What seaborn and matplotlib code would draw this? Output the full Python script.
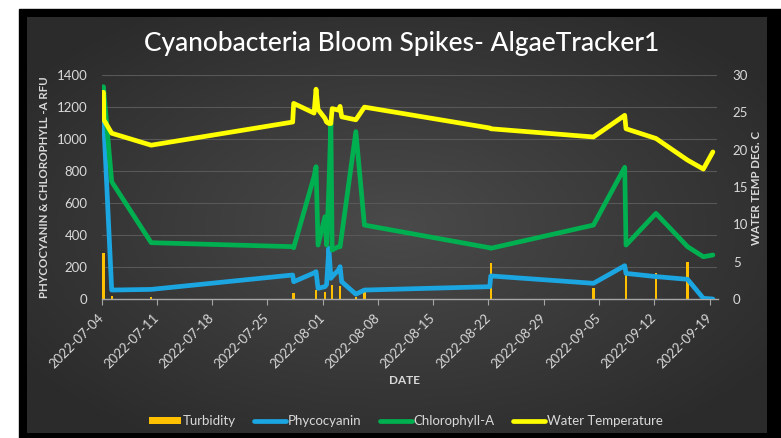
import numpy as np
import pandas as pd
import matplotlib
matplotlib.use("Agg")
import matplotlib.pyplot as plt
from matplotlib.patches import Rectangle, Patch
from matplotlib.lines import Line2D
from matplotlib.colors import LinearSegmentedColormap
import seaborn as sns

# ---------------- data ----------------
timestamps = [
    "2022-07-04 06:00", "2022-07-04 07:00", "2022-07-05 07:00", "2022-07-10 07:00",
    "2022-07-28 05:00", "2022-07-28 08:00", "2022-07-30 22:00", "2022-07-31 04:00",
    "2022-07-31 10:00", "2022-08-01 07:00", "2022-08-01 12:00", "2022-08-01 19:00",
    "2022-08-02 01:00", "2022-08-02 05:00", "2022-08-03 00:00", "2022-08-03 05:00",
    "2022-08-03 10:00", "2022-08-05 05:00", "2022-08-06 07:00", "2022-08-22 04:00",
    "2022-08-22 07:00", "2022-09-04 07:00", "2022-09-08 06:00", "2022-09-08 10:00",
    "2022-09-12 05:00", "2022-09-16 05:00", "2022-09-18 05:00", "2022-09-19 10:00",
]
water_temp = [27.7, 24.0, 22.2, 20.6, 23.7, 26.2, 24.9, 28.1, 25.4, 24.2, 23.7, 23.5,
              23.5, 25.5, 25.3, 25.8, 24.4, 24.0, 25.7, 22.9, 22.8, 21.7, 24.6, 22.8,
              21.5, 18.6, 17.4, 19.7]
chlorophyll = [1327, 1300, 733, 352, 327, 320, 766, 827, 337, 514, 337, 700,
               1098, 306, 327, 327, 400, 1046, 462, 320, 317, 462, 823, 337,
               535, 327, 264, 275]
phycocyanin = [1119, 1100, 56, 60, 150, 108, 163, 171, 67, 77, 90, 317,
               129, 140, 181, 202, 108, 30, 56, 77, 144, 98, 208, 160,
               140, 123, 4, 0]
turbidity = [285, 0, 20, 10, 0, 40, 0, 56, 0, 46, 0, 0,
             0, 87, 0, 81, 0, 15, 62, 0, 227, 67, 0, 150,
             165, 233, 0, 0]
tick_labels = ["2022-07-04", "2022-07-11", "2022-07-18", "2022-07-25", "2022-08-01",
               "2022-08-08", "2022-08-15", "2022-08-22", "2022-08-29", "2022-09-05",
               "2022-09-12", "2022-09-19"]
left_ticks = [0, 200, 400, 600, 800, 1000, 1200, 1400]
right_ticks = [0, 5, 10, 15, 20, 25, 30]

dates = pd.to_datetime(timestamps)

# ---------------- style ----------------
sns.set_theme(style="white")
plt.rcParams["font.family"] = ["Lato", "DejaVu Sans"]

C_TURB = "#FFC000"
C_PHY = "#1BA6E2"
C_CHL = "#00B050"
C_TEMP = "#FFFF00"
C_TXT = "#D9D9D9"

W, H = 781, 438
fig = plt.figure(figsize=(W / 100, H / 100), dpi=100, facecolor="white")

# black frame
fig.patches.append(Rectangle((19 / W, 0), 1 - 19 / W, 1 - 9 / H,
                             transform=fig.transFigure, color="black", zorder=-5))

# radial gradient background
bg = fig.add_axes([27 / W, 1 - 433 / H, (767 - 27) / W, (433 - 17) / H])
bg.set_zorder(0)
yy, xx = np.mgrid[0:1:300j, 0:1:500j]
r = np.sqrt(((xx - 0.5) / 0.62) ** 2 + ((yy - 0.5) / 0.62) ** 2)
cmap = LinearSegmentedColormap.from_list("bg", ["#4A4A4A", "#2B2B2B"])
bg.imshow(np.clip(r, 0, 1), cmap=cmap, vmin=0, vmax=1, aspect="auto",
          extent=(0, 1, 0, 1), interpolation="bilinear")
bg.axis("off")

# main axes
ax = fig.add_axes([101.5 / W, 1 - 299 / H, 616 / W, 224 / H])
ax.set_zorder(1)
ax.set_facecolor("none")

ax.bar(dates, turbidity, width=0.3, color=C_TURB, edgecolor="none",
       linewidth=0, zorder=2)
sns.lineplot(x=dates, y=phycocyanin, ax=ax, color=C_PHY, linewidth=3.4,
             estimator=None, sort=False, zorder=3)
sns.lineplot(x=dates, y=chlorophyll, ax=ax, color=C_CHL, linewidth=3.4,
             estimator=None, sort=False, zorder=4)
for l in ax.lines:
    l.set_solid_joinstyle("round")

ax2 = ax.twinx()
ax2.set_zorder(2)
ax2.set_facecolor("none")
sns.lineplot(x=dates, y=water_temp, ax=ax2, color=C_TEMP, linewidth=3.4,
             estimator=None, sort=False)
for l in ax2.lines:
    l.set_solid_joinstyle("round")

ax.set_xlim(pd.Timestamp("2022-07-04"), pd.Timestamp("2022-09-20"))
ax.set_ylim(0, 1400)
ax2.set_ylim(0, 30)
ax.set_yticks(left_ticks)
ax.set_yticklabels([str(v) for v in left_ticks])
ax2.set_yticks(right_ticks)
ax2.set_yticklabels([str(v) for v in right_ticks])
ax.set_xticks(pd.to_datetime(tick_labels))
ax.set_xticklabels(tick_labels, rotation=45, ha="right", va="center",
                   rotation_mode="anchor")

ax.set_xlabel("")
ax.set_ylabel("")
ax2.set_ylabel("")

ax.grid(axis="y", color="#585858", linewidth=0.8)
ax.grid(axis="x", visible=False)
ax2.grid(False)
ax.set_axisbelow(True)

for s in ["top", "left", "right"]:
    ax.spines[s].set_visible(False)
for s in ax2.spines.values():
    s.set_visible(False)
ax.spines["bottom"].set_color("#A6A6A6")
ax.spines["bottom"].set_linewidth(1.0)

ax.tick_params(axis="y", length=0, pad=10, labelcolor=C_TXT, labelsize=9.5)
ax.tick_params(axis="x", length=4, width=0.8, color="#A6A6A6", direction="out",
               pad=8, labelcolor=C_TXT, labelsize=9.5, bottom=True)
ax2.tick_params(axis="y", length=0, pad=11, labelcolor=C_TXT, labelsize=9.5)

# texts
fig.text(402 / W, 1 - 43 / H, "Cyanobacteria Bloom Spikes- AlgaeTracker1",
         color="white", fontsize=19, fontweight="medium", ha="center", va="center")
fig.text(45 / W, 1 - 187 / H, "PHYCOCYANIN & CHLOROPHYLL -A RFU", color=C_TXT,
         fontsize=8.3, fontweight="bold", rotation=90, ha="center", va="center")
fig.text(757 / W, 1 - 188 / H, "WATER TEMP DEG. C", color=C_TXT,
         fontsize=8.3, fontweight="bold", rotation=90, ha="center", va="center")
fig.text(405 / W, 1 - 381 / H, "DATE", color=C_TXT, fontsize=8.5,
         fontweight="bold", ha="center", va="center")

handles = [
    Patch(facecolor=C_TURB, edgecolor="none"),
    Line2D([], [], color=C_PHY, lw=3.4),
    Line2D([], [], color=C_CHL, lw=3.4),
    Line2D([], [], color=C_TEMP, lw=3.4),
]
labels = ["Turbidity", "Phycocyanin", "Chlorophyll-A", "Water Temperature"]
leg = fig.legend(handles, labels, loc="center", bbox_to_anchor=(406 / W, 1 - 421 / H),
                 ncol=4, frameon=False, fontsize=9.5, handlelength=2.4,
                 handleheight=0.45, handletextpad=0.15, columnspacing=1.4)
for t in leg.get_texts():
    t.set_color(C_TXT)

fig.savefig("out.png", dpi=100, facecolor=fig.get_facecolor())
